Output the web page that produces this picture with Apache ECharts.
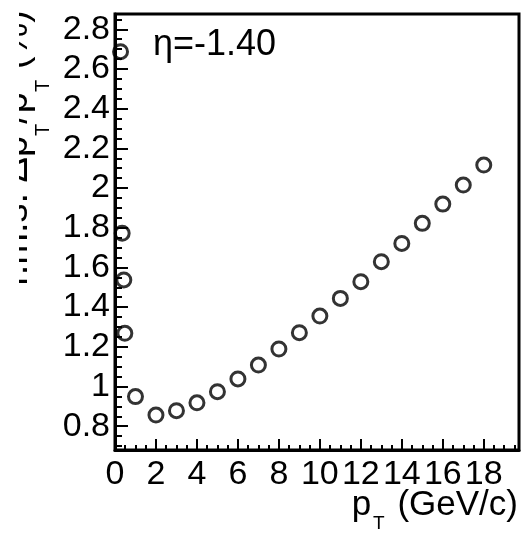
<!DOCTYPE html>
<html><head><meta charset="utf-8">
<script src="https://cdn.jsdelivr.net/npm/echarts@6/dist/echarts.min.js"></script>
<style>html,body{margin:0;padding:0;background:#fff}#c{width:526px;height:533px}</style>
</head><body><div id="c"></div>
<script>
// ---- data ----
const ptValues  = [0.27, 0.35, 0.43, 0.48, 1, 2, 3, 4, 5, 6, 7, 8, 9, 10, 11, 12, 13, 14, 15, 16, 17, 18];
const rmsValues = [2.687, 1.772, 1.537, 1.268, 0.949, 0.856, 0.878, 0.918, 0.974, 1.038, 1.108, 1.189, 1.271, 1.355, 1.444, 1.528, 1.629, 1.721, 1.822, 1.919, 2.015, 2.116];
const xMajorTicks = [0, 2, 4, 6, 8, 10, 12, 14, 16, 18];
const yMajorTicks = [0.8, 1.0, 1.2, 1.4, 1.6, 1.8, 2.0, 2.2, 2.4, 2.6, 2.8];
const xRange = [0, 19.72];
const yRange = [0.68, 2.877];
const etaLabel = 'η=-1.40';

const xMinorTicks = [];
for (let i = 0; i <= 39; i++) xMinorTicks.push(i * 0.5);
const yMinorTicks = [];
for (let i = 14; i <= 57; i++) yMinorTicks.push(+(i * 0.05).toFixed(2));

const FONT = 'Liberation Sans, Arial, Helvetica, sans-serif';
const chart = echarts.init(document.getElementById('c'), null, {renderer: 'canvas'});

const points = ptValues.map((x, i) => [x, rmsValues[i]]);

chart.setOption({
  animation: false,
  backgroundColor: '#fff',
  grid: {left: 115, top: 14, right: 7, bottom: 83, show: true, borderColor: '#000', borderWidth: 3, backgroundColor: 'transparent'},
  xAxis: [{
    type: 'value', min: xRange[0], max: xRange[1],
    axisLine: {show: true, onZero: false, lineStyle: {color: '#000', width: 3}},
    axisTick: {show: true, inside: true, length: 11, lineStyle: {color: '#000', width: 2}, customValues: xMajorTicks},
    axisLabel: {show: true, customValues: xMajorTicks, color: '#000', fontSize: 34, fontFamily: FONT, margin: 8,
      formatter: v => String(Math.round(v))},
    splitLine: {show: false}
  }, {
    type: 'value', min: xRange[0], max: xRange[1], position: 'bottom',
    axisLine: {show: false, onZero: false},
    axisTick: {show: true, inside: true, length: 5, lineStyle: {color: '#000', width: 2}, customValues: xMinorTicks},
    axisLabel: {show: false}, splitLine: {show: false}
  }],
  yAxis: [{
    type: 'value', min: yRange[0], max: yRange[1],
    axisLine: {show: true, onZero: false, lineStyle: {color: '#000', width: 3}},
    axisTick: {show: true, inside: true, length: 13, lineStyle: {color: '#000', width: 2}, customValues: yMajorTicks},
    axisLabel: {show: true, customValues: yMajorTicks, color: '#000', fontSize: 34, fontFamily: FONT, margin: 5,
      formatter: v => String(+(+v).toFixed(1))},
    splitLine: {show: false}
  }, {
    type: 'value', min: yRange[0], max: yRange[1], position: 'left',
    axisLine: {show: false, onZero: false},
    axisTick: {show: true, inside: true, length: 7, lineStyle: {color: '#000', width: 2}, customValues: yMinorTicks},
    axisLabel: {show: false}, splitLine: {show: false}
  }],
  series: [{
    type: 'scatter', xAxisIndex: 0, yAxisIndex: 0,
    data: points, symbol: 'circle', symbolSize: 14, clip: false,
    itemStyle: {color: 'rgba(255,255,255,0)', borderColor: '#000', borderWidth: 3},
    z: 10
  }],
  graphic: [
    {type: 'text', left: 153, top: 27, style: {text: etaLabel, font: '36px ' + FONT, fill: '#000'}},
    {type: 'text', x: 518, y: 488, style: {
      text: '{m|p}{s|T}{m| (GeV/c)}', align: 'right', verticalAlign: 'top',
      rich: {
        m: {fontSize: 35, fontFamily: FONT, color: '#000', lineHeight: 45, verticalAlign: 'top'},
        s: {fontSize: 19, fontFamily: FONT, color: '#000', lineHeight: 20, verticalAlign: 'bottom', padding: [0, 3, 0, 2]}
      }
    }},
    {type: 'text', x: 53, y: 148, rotation: Math.PI / 2, z: 1, style: {
      text: '{m|r.m.s. Δp}{s|T}{m|/p}{s|T}{m| (%)}', align: 'center', verticalAlign: 'bottom',
      rich: {
        m: {fontSize: 38, fontFamily: FONT, color: '#000', lineHeight: 55, verticalAlign: 'top'},
        s: {fontSize: 20, fontFamily: FONT, color: '#000', lineHeight: 20, verticalAlign: 'bottom'}
      }
    }},
    {type: 'rect', shape: {x: 0, y: 0, width: 19, height: 320}, z: 5, style: {fill: '#fff'}}
  ]
});
</script></body></html>
